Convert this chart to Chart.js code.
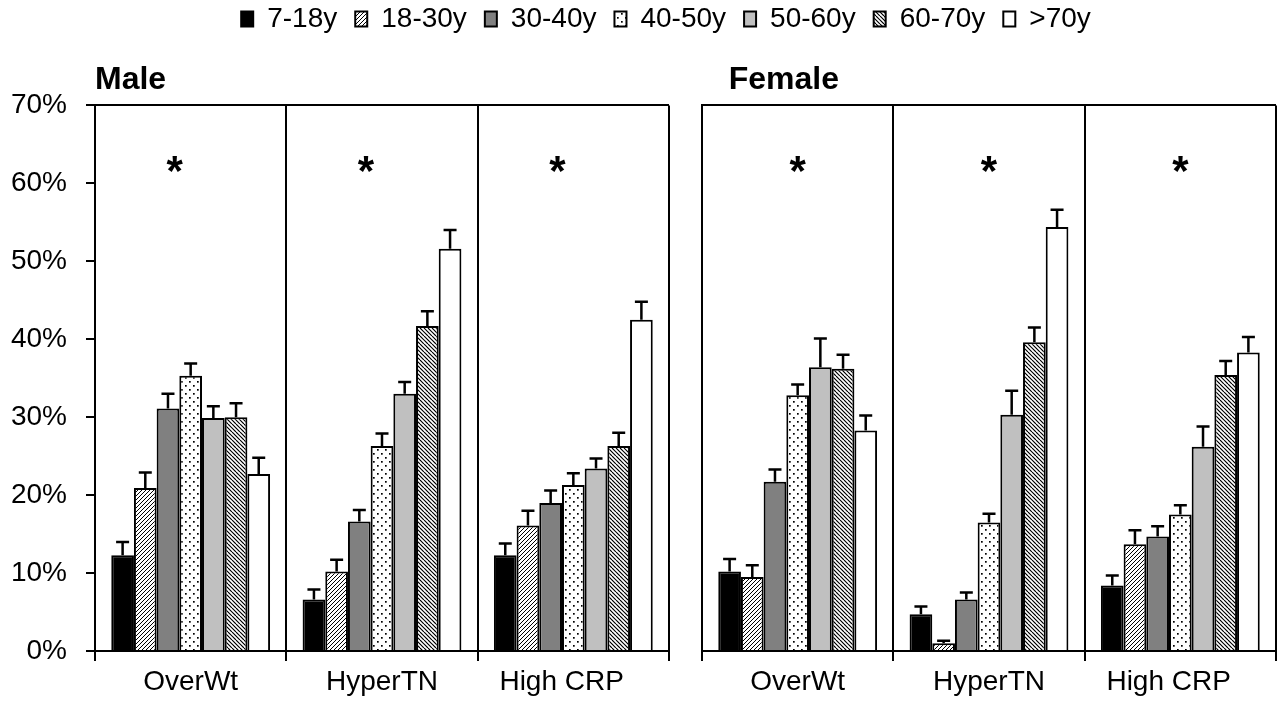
<!DOCTYPE html>
<html>
<head>
  <title>Risk factors by age band</title>
  <meta name="viewport" content="width=device-width, initial-scale=1.0">
  <style>
    body {
      margin: 0;
      background: #fff;
    }
    #wrap {
      position: relative;
      width: 1282px;
      height: 715px;
    }
    .layer {
      position: absolute;
      left: 0;
      top: 0;
      width: 1282px;
      height: 715px;
    }
  </style>
</head>
<body>
  <div id="wrap">
    <div class="layer"><canvas id="maleChart"></canvas></div>
    <div class="layer"><canvas id="femaleChart"></canvas></div>
  </div>

  <script src="https://cdn.jsdelivr.net/npm/chart.js"></script>
  <script>
    const groups = ['OverWt', 'HyperTN', 'High CRP   '];
    const ageBands = ['7-18y', '18-30y', '30-40y', '40-50y', '50-60y', '60-70y', '>70y'];
    const sigMarks = ['*', '*', '*'];
    const yTicks = [0, 10, 20, 30, 40, 50, 60, 70];

    // one row per age band, one value per group (%)
    const maleValues = [
      [12.3, 6.6, 12.3],
      [20.9, 10.2, 16.1],
      [31.1, 16.6, 19.0],
      [35.3, 26.3, 21.3],
      [29.9, 33.0, 23.4],
      [30.0, 41.7, 26.3],
      [22.7, 51.6, 42.5]
    ];
    const maleErrors = [
      [1.7, 1.3, 1.5],
      [2.0, 1.5, 1.9],
      [1.9, 1.5, 1.6],
      [1.6, 1.6, 1.5],
      [1.5, 1.5, 1.3],
      [1.8, 1.9, 1.7],
      [2.1, 2.4, 2.3]
    ];
    const femaleValues = [
      [10.2, 4.7, 8.4],
      [9.5, 1.0, 13.7],
      [21.7, 6.6, 14.7],
      [32.8, 16.5, 17.5],
      [36.4, 30.3, 26.2],
      [36.2, 39.6, 35.4],
      [28.3, 54.4, 38.3]
    ];
    const femaleErrors = [
      [1.6, 1.0, 1.3],
      [1.5, 0.3, 1.8],
      [1.6, 0.9, 1.3],
      [1.4, 1.1, 1.2],
      [3.7, 3.1, 2.6],
      [1.8, 1.9, 1.8],
      [1.9, 2.2, 2.0]
    ];

    Chart.defaults.font.family = '"Liberation Sans", Arial, sans-serif';
    Chart.defaults.font.size = 28;
    Chart.defaults.color = '#000';

    function makePattern(kind) {
      const tile = document.createElement('canvas');
      tile.width = 8;
      tile.height = 8;
      const c = tile.getContext('2d');
      c.fillStyle = '#fff';
      c.fillRect(0, 0, 8, 8);
      c.strokeStyle = '#000';
      c.fillStyle = '#000';
      c.beginPath();
      if (kind === 'up') {
        c.lineWidth = 1;
        for (let k = -8; k <= 16; k += 4) { c.moveTo(k, 8); c.lineTo(k + 8, 0); }
        c.stroke();
      } else if (kind === 'down') {
        c.lineWidth = 1.2;
        for (let k = -8; k <= 16; k += 4) { c.moveTo(k, 0); c.lineTo(k + 8, 8); }
        c.stroke();
      } else if (kind === 'dots') {
        c.fillRect(1, 1, 1.7, 1.7);
        c.fillRect(5, 5, 1.7, 1.7);
      }
      return c.createPattern(tile, 'repeat');
    }

    const fills = [
      '#000000',
      makePattern('up'),
      '#808080',
      makePattern('dots'),
      '#c0c0c0',
      makePattern('down'),
      '#ffffff'
    ];

    function makeDatasets(values, errors) {
      return ageBands.map((band, i) => ({
        label: band,
        data: values[i],
        errors: errors[i],
        backgroundColor: fills[i],
        borderColor: '#000',
        borderWidth: 2,
        categoryPercentage: 0.83,
        barPercentage: 1.0
      }));
    }

    const errorBars = {
      id: 'errorBars',
      afterDatasetsDraw(chart) {
        const ctx = chart.ctx;
        const y = chart.scales.y;
        ctx.save();
        ctx.strokeStyle = '#000';
        ctx.lineWidth = 2.5;
        chart.data.datasets.forEach((ds, i) => {
          chart.getDatasetMeta(i).data.forEach((bar, j) => {
            const top = y.getPixelForValue(ds.data[j] + ds.errors[j]);
            ctx.beginPath();
            ctx.moveTo(bar.x, bar.y);
            ctx.lineTo(bar.x, top);
            ctx.moveTo(bar.x - 6.5, top);
            ctx.lineTo(bar.x + 6.5, top);
            ctx.stroke();
          });
        });
        ctx.restore();
      }
    };

    const sigMarkers = {
      id: 'sigMarkers',
      afterDatasetsDraw(chart, args, opts) {
        const ctx = chart.ctx;
        const x = chart.scales.x;
        const y = chart.scales.y;
        ctx.save();
        ctx.fillStyle = '#000';
        ctx.font = 'bold 42px "Liberation Sans", Arial, sans-serif';
        ctx.textAlign = 'center';
        ctx.textBaseline = 'alphabetic';
        sigMarks.forEach((mark, j) => {
          ctx.fillText(mark, x.getPixelForValue(j) + (opts.shift || 0), y.getPixelForValue(59.8));
        });
        ctx.restore();
      }
    };

    function panelOptions(opts) {
      return {
        responsive: true,
        maintainAspectRatio: false,
        animation: false,
        layout: { padding: opts.padding },
        plugins: {
          legend: opts.legend,
          title: {
            display: true,
            text: opts.title,
            align: 'start',
            fullSize: false,
            weight: 100,
            color: '#000',
            font: { size: 32, weight: 'bold' },
            padding: { top: 18, bottom: 6 }
          },
          tooltip: { enabled: false },
          sigMarkers: { shift: opts.starShift }
        },
        scales: {
          x: {
            grid: {
              offset: true,
              color: '#000',
              tickColor: '#000',
              lineWidth: 2,
              tickLength: 10
            },
            border: { display: true, color: '#000', width: 2 },
            ticks: { padding: 4, font: { size: 28 } },
            afterFit(s) { s.height = 64; }
          },
          y: {
            min: 0,
            max: 70,
            afterBuildTicks(s) { s.ticks = yTicks.map(v => ({ value: v })); },
            grid: {
              color: c => (c.tick && c.tick.value === 70 ? '#000' : 'rgba(0,0,0,0)'),
              tickColor: opts.showY ? '#000' : 'rgba(0,0,0,0)',
              lineWidth: 2,
              tickLength: 9
            },
            border: { display: true, color: '#000', width: 2 },
            ticks: {
              display: opts.showY,
              padding: 19,
              font: { size: 28 },
              callback: v => v + '%'
            },
            afterFit(s) { s.width = opts.yWidth; }
          }
        }
      };
    }

    const femaleChart = new Chart(document.getElementById('femaleChart'), {
      type: 'bar',
      data: { labels: groups, datasets: makeDatasets(femaleValues, femaleErrors) },
      options: panelOptions({
        title: '   Female',
        showY: false,
        yWidth: 646,
        starShift: 0,
        padding: { top: -13, left: 56, right: 6, bottom: 0 },
        legend: {
          display: true,
          position: 'top',
          weight: 3000,
          labels: {
            color: '#000',
            font: { size: 28 },
            boxWidth: 12,
            boxHeight: 15,
            padding: 18
          }
        }
      }),
      plugins: [errorBars, sigMarkers]
    });

    const maleChart = new Chart(document.getElementById('maleChart'), {
      type: 'bar',
      data: { labels: groups, datasets: makeDatasets(maleValues, maleErrors) },
      options: panelOptions({
        title: 'Male',
        showY: true,
        yWidth: 95,
        starShift: -16,
        padding: { top: femaleChart.legend.bottom, left: 0, right: 613, bottom: 0 },
        legend: { display: false }
      }),
      plugins: [errorBars, sigMarkers]
    });
  </script>
</body>
</html>
